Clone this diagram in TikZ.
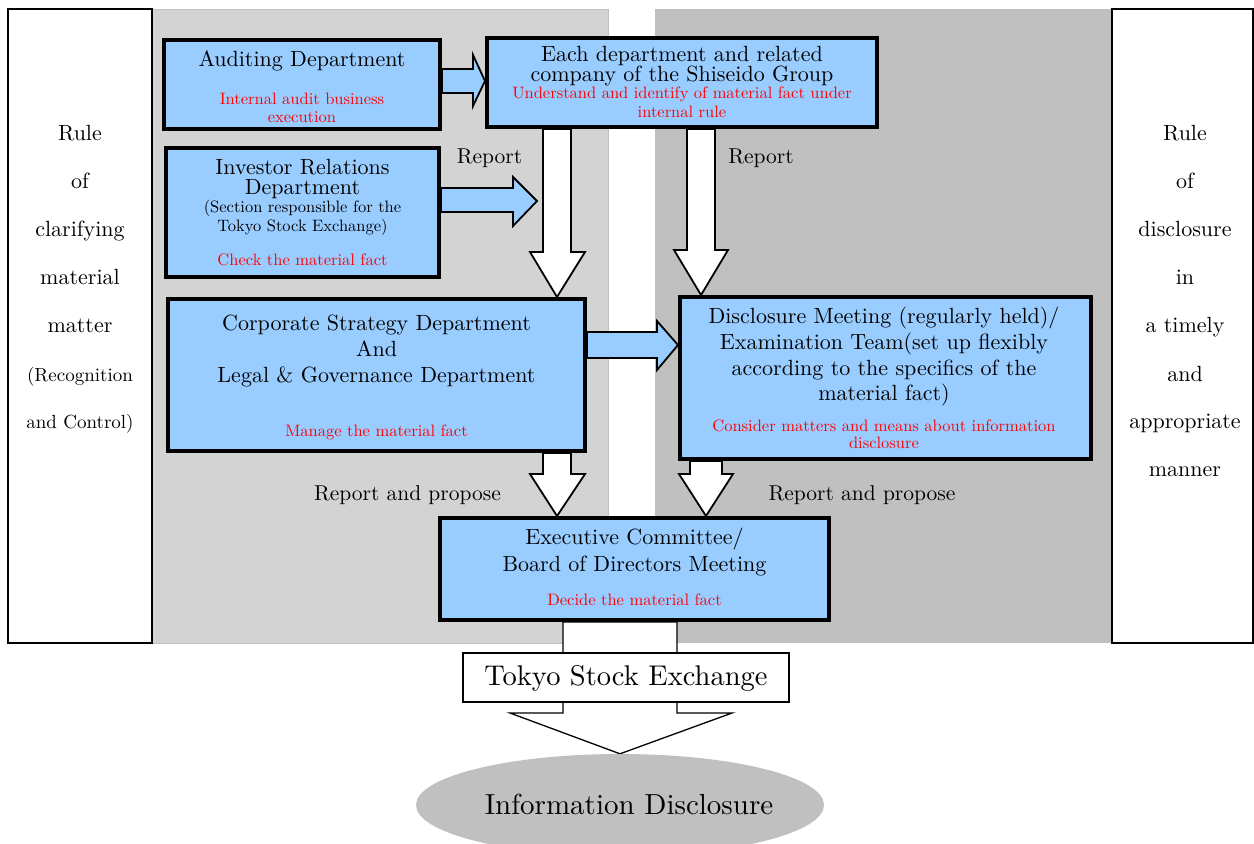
\documentclass[tikz,border=0pt]{standalone}
\usepackage{fontspec}
\setmainfont{lmroman10-regular.otf}[ItalicFont=lmroman10-italic.otf,BoldFont=lmroman10-bold.otf]
\usetikzlibrary{calc,shapes.geometric}
\pgfdeclarelayer{bg}
\pgfdeclarelayer{arr}
\pgfsetlayers{bg,arr,main}
\definecolor{boxblue}{HTML}{99CCFF}
\definecolor{lgray}{HTML}{D3D3D3}
\definecolor{dgray}{HTML}{C0C0C0}
\definecolor{redtxt}{HTML}{FF0000}
\tikzset{
  bbox/.style={draw=black, line width=4pt, fill=boxblue, inner sep=0pt},
  rulebox/.style={draw=black, line width=1.5pt, fill=white, inner sep=0pt},
  wbox/.style={draw=black, line width=1.3pt, fill=white, inner sep=0pt},
  ttl/.style={anchor=base, inner sep=0pt, font=\fontsize{22}{22}\selectfont},
  ttltight/.style={anchor=base, inner sep=0pt, font=\fontsize{22}{#1}\selectfont},
  subt/.style={anchor=base, inner sep=0pt, font=\fontsize{16.5}{16.5}\selectfont},
  rtx/.style={anchor=base, inner sep=0pt, text=redtxt, font=\fontsize{16.5}{16.5}\selectfont},
  lbl/.style={anchor=base, inner sep=0pt, font=\fontsize{21.5}{21.5}\selectfont},
  col/.style={anchor=base, inner sep=0pt, font=\fontsize{22}{22}\selectfont},
  colsm/.style={anchor=base, inner sep=0pt, font=\fontsize{19}{19}\selectfont},
  blockb/.style={draw=black, line width=1.8pt, fill=boxblue, line join=miter},
  blockw/.style={draw=black, line width=1.8pt, fill=white, line join=miter},
}
\begin{document}
\begin{tikzpicture}[x=1pt,y=-1pt]
\useasboundingbox (0,0) rectangle (1254,844);
\begin{pgfonlayer}{bg}
  \fill[white] (0,0) rectangle (1254,844);
  \draw[fill=lgray, draw=dgray, line width=1pt] (152,9) rectangle (608,643);
  \fill[dgray] (655,9) rectangle (1112,643);
\end{pgfonlayer}

% side rule boxes
\node[rulebox, minimum width=144, minimum height=634] (lrule) at (80,326) {};
\node[rulebox, minimum width=141, minimum height=634] (rrule) at (1182.5,326) {};

\node[col] (l1) at (80,140) {Rule};
\node[col] (l2) at (80,188) {of};
\node[col] (l3) at (80,236) {clarifying};
\node[col] (l4) at (80,284) {material};
\node[col] (l5) at (80,332) {matter};
\node[colsm] (l6) at (80,381) {(Recognition};
\node[colsm] (l7) at (80,428) {and Control)};

\node[col] (r1) at (1185,140) {Rule};
\node[col] (r2) at (1185,188) {of};
\node[col] (r3) at (1185,236) {disclosure};
\node[col] (r4) at (1185,284) {in};
\node[col] (r5) at (1185,332) {a timely};
\node[col] (r6) at (1185,381) {and};
\node[col] (r7) at (1185,428) {appropriate};
\node[col] (r8) at (1185,476) {manner};

% boxes
\node[bbox, minimum width=276, minimum height=89] (aud) at (302,84.5) {};
\node[bbox, minimum width=390, minimum height=89] (each) at (682,82.5) {};
\node[bbox, minimum width=273, minimum height=129] (ir) at (302.5,212.5) {};
\node[bbox, minimum width=417, minimum height=152] (corp) at (376.5,375) {};
\node[bbox, minimum width=411, minimum height=162] (disc) at (885.5,378) {};
\node[bbox, minimum width=389, minimum height=102] (exec) at (634.5,569) {};
\node[wbox, minimum width=326, minimum height=49] (tse) at (626,677.5) {};
\node[ellipse, fill=dgray, inner sep=0pt, minimum width=408, minimum height=102] (info) at (620,805) {};

% texts in boxes
\node[ttl] (taud) at (302,66) {Auditing Department};
\node[rtx] (raud1) at (302,104) {Internal audit business};
\node[rtx] (raud2) at (302,122) {execution};

\node[ttltight=18] (teach) at (682,61) {\begin{tabular}[t]{@{}c@{}}Each department and related\\ company of the Shiseido Group\end{tabular}};
\node[rtx] (reach1) at (682,98) {Understand and identify of material fact under};
\node[rtx] (reach2) at (682,117) {internal rule};

\node[ttltight=19] (tir) at (302.5,174) {\begin{tabular}[t]{@{}c@{}}Investor Relations\\ Department\end{tabular}};
\node[subt] (sir1) at (302.5,212) {(Section responsible for the};
\node[subt] (sir2) at (302.5,231) {Tokyo Stock Exchange)};
\node[rtx] (rir) at (302.5,265) {Check the material fact};

\node[ttl] (tcorp1) at (376.5,330) {Corporate Strategy Department};
\node[ttl] (tcorp2) at (376.5,356) {And};
\node[ttl] (tcorp3) at (376.5,382) {Legal \& Governance Department};
\node[rtx] (rcorp) at (376.5,436) {Manage the material fact};

\node[ttl] (tdisc1) at (884,323) {Disclosure Meeting (regularly held)/};
\node[ttl] (tdisc2) at (884,349) {Examination Team(set up flexibly};
\node[ttl] (tdisc3) at (884,375) {according to the specifics of the};
\node[ttl] (tdisc4) at (884,400) {material fact)};
\node[rtx] (rdisc1) at (884,431) {Consider matters and means about information};
\node[rtx] (rdisc2) at (884,448) {disclosure};

\node[ttl] (texec1) at (634.5,544) {Executive Committee/};
\node[ttl] (texec2) at (634.5,571) {Board of Directors Meeting};
\node[rtx] (rexec) at (634.5,605) {Decide the material fact};

\node[anchor=base, inner sep=0pt, font=\fontsize{28.5}{28.5}\selectfont] (ttse) at (626,685) {Tokyo Stock Exchange};
\node[anchor=base, inner sep=0pt, font=\fontsize{29}{29}\selectfont] (tinfo) at (629,814) {Information Disclosure};

% labels
\node[lbl] (rep1) at (489.5,163) {Report};
\node[lbl] (rep2) at (761,163) {Report};
\node[lbl] (rp1) at (407.5,500) {Report and propose};
\node[lbl] (rp2) at (862,500) {Report and propose};

\coordinate (irtip) at (537,201);

% arrows
\begin{pgfonlayer}{arr}
  % Auditing -> Each department
  \draw[blockb] (aud.east |- 0,69) -- (473,69) -- (473,55) -- (each.west |- 0,81)
     -- (473,106) -- (473,93) -- (aud.east |- 0,93) -- cycle;
  % Investor Relations -> (free end)
  \draw[blockb] (ir.east |- 0,188) -- (513,188) -- (513,177) -- (irtip)
     -- (513,226) -- (513,212) -- (ir.east |- 0,212) -- cycle;
  % Each -> Corporate (Report)
  \draw[blockw] (543,0 |- each.south) -- (543,252) -- (530,252) -- (557,0 |- corp.north)
     -- (585,252) -- (571,252) -- (571,0 |- each.south) -- cycle;
  % Each -> Disclosure (Report)
  \draw[blockw] (687,0 |- each.south) -- (687,250) -- (674,250) -- (701,0 |- disc.north)
     -- (728,250) -- (715,250) -- (715,0 |- each.south) -- cycle;
  % Corporate -> Disclosure
  \draw[blockb] (corp.east |- 0,332) -- (657,332) -- (657,321) -- (disc.west |- 0,345)
     -- (657,370) -- (657,358) -- (corp.east |- 0,358) -- cycle;
  % Corporate -> Executive
  \draw[blockw] (543,0 |- corp.south) -- (543,474) -- (530,474) -- (557,0 |- exec.north)
     -- (585,474) -- (571,474) -- (571,0 |- corp.south) -- cycle;
  % Disclosure -> Executive
  \draw[blockw] (690,0 |- disc.south) -- (690,474) -- (679,474) -- (706,0 |- exec.north)
     -- (733,474) -- (722,474) -- (722,0 |- disc.south) -- cycle;
  % Executive -> Information Disclosure (through TSE)
  \draw[blockw, line width=1.3pt] (563,0 |- exec.south) -- (563,713) -- (510,713) -- (info.north)
     -- (732,713) -- (677,713) -- (677,0 |- exec.south) -- cycle;
\end{pgfonlayer}
\end{tikzpicture}
\end{document}
